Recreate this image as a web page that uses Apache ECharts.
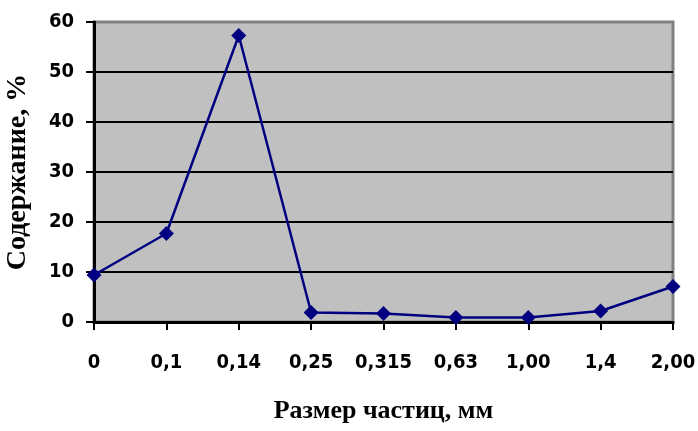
<!DOCTYPE html>
<html>
<head>
<meta charset="utf-8">
<script src="https://cdn.jsdelivr.net/npm/echarts@6/dist/echarts.min.js"></script>
<style>
  html, body { margin: 0; padding: 0; background: #fff; }
  #chart { width: 698px; height: 431px; }
</style>
</head>
<body>
<div id="chart"></div>
<script>
// Particle size fractions (mm) and their content (%)
const sizes = ['0', '0,1', '0,14', '0,25', '0,315', '0,63', '1,00', '1,4', '2,00'];
const content = [9.4, 17.7, 57.3, 1.9, 1.7, 0.9, 0.9, 2.2, 7.1];
const yTicks = [0, 10, 20, 30, 40, 50, 60];

const tickFont = { fontFamily: 'DejaVu Sans Condensed, DejaVu Sans', fontWeight: 'bold', fontSize: 20, color: '#000' };
const titleFont = { fontFamily: 'Liberation Serif', fontWeight: 'bold', color: '#000' };

// Horizontal grid lines are black; the top one doubles as the grey frame edge
const gridColors = yTicks.map((v, i) => (i === yTicks.length - 1 ? '#808080' : '#000'));

const chart = echarts.init(document.getElementById('chart'), null, { renderer: 'canvas' });
chart.setOption({
  animation: false,
  grid: {
    left: 94, right: 25, top: 22, bottom: 109,
    outerBoundsMode: 'none',
    containLabel: false,
    show: true,
    backgroundColor: '#c0c0c0',
    borderColor: '#808080',
    borderWidth: 3
  },
  xAxis: {
    type: 'category',
    data: sizes,
    boundaryGap: false,
    name: 'Размер частиц, мм',
    nameLocation: 'middle',
    nameGap: 76,
    nameTextStyle: Object.assign({ fontSize: 26 }, titleFont),
    axisLine: { lineStyle: { color: '#000', width: 3 } },
    axisTick: { show: true, alignWithLabel: true, length: 8, lineStyle: { color: '#000', width: 2 } },
    axisLabel: Object.assign({ margin: 31, interval: 0 }, tickFont),
    splitLine: { show: false }
  },
  yAxis: {
    type: 'value',
    min: yTicks[0],
    max: yTicks[yTicks.length - 1],
    interval: 10,
    name: 'Содержание, %',
    nameLocation: 'middle',
    nameGap: 62,
    nameTextStyle: Object.assign({ fontSize: 28 }, titleFont),
    axisLine: { show: true, lineStyle: { color: '#000', width: 3 } },
    axisTick: { show: true, length: 8, lineStyle: { color: '#000', width: 2 } },
    axisLabel: Object.assign({ margin: 20 }, tickFont),
    splitLine: { show: true, lineStyle: { color: gridColors, width: 2 } }
  },
  series: [{
    type: 'line',
    data: content,
    symbol: 'diamond',
    symbolSize: 15,
    lineStyle: { color: '#000080', width: 2.5 },
    itemStyle: { color: '#000080' },
    z: 5
  }]
});
</script>
</body>
</html>
